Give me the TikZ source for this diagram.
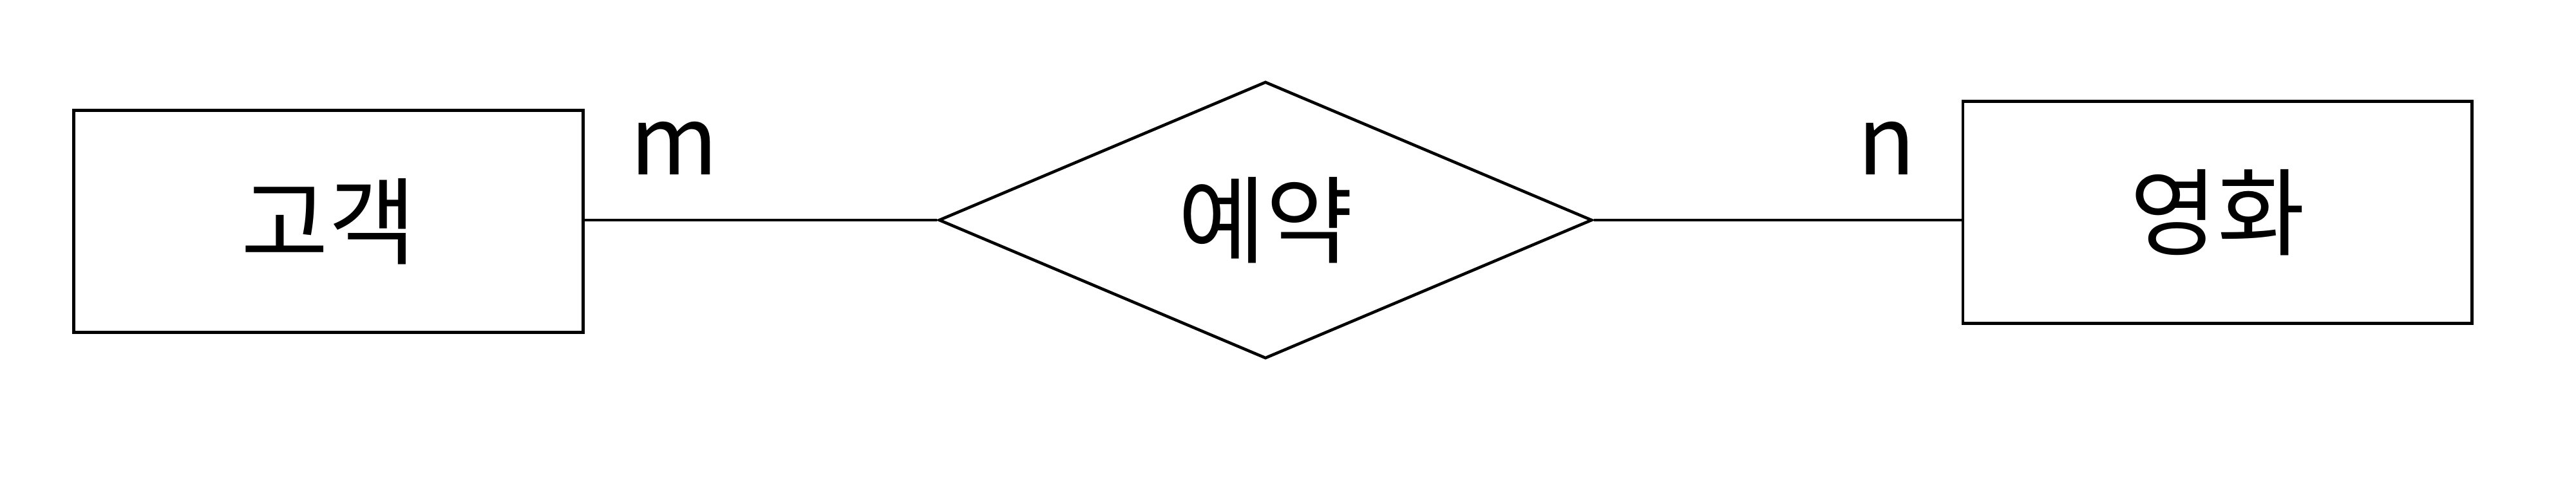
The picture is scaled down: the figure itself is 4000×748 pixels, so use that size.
\documentclass[tikz,border=0pt]{standalone}
\usepackage{fontspec}
\setmainfont{Noto Sans CJK KR}
\usetikzlibrary{shapes.geometric}
\begin{document}
\begin{tikzpicture}[x=0.01cm,y=-0.01cm,
  every node/.style={font=\fontsize{42}{50}\selectfont, inner sep=0pt},
  entity/.style={draw, line width=1.3pt, rectangle, minimum width=7.9cm, minimum height=3.45cm},
  relation/.style={draw, line width=1.3pt, diamond, minimum width=10.14cm, minimum height=4.3cm},
  link/.style={line width=1.3pt},
  card/.style={font=\fontsize{42}{50}\selectfont}]
\useasboundingbox (0,0) rectangle (4000,748);
\node[entity] (cust) at (510,344) {고객};
\node[relation] (resv) at (1965,342) {예약};
\node[entity] (movie) at (3443,330) {영화};
\draw[link] (resv.west -| cust.east) -- (resv.west);
\draw[link] (resv.east) -- (resv.east -| movie.west);
\node[card] (m) at (1047,230) {m};
\node[card] (n) at (2930,230) {n};
\end{tikzpicture}
\end{document}
